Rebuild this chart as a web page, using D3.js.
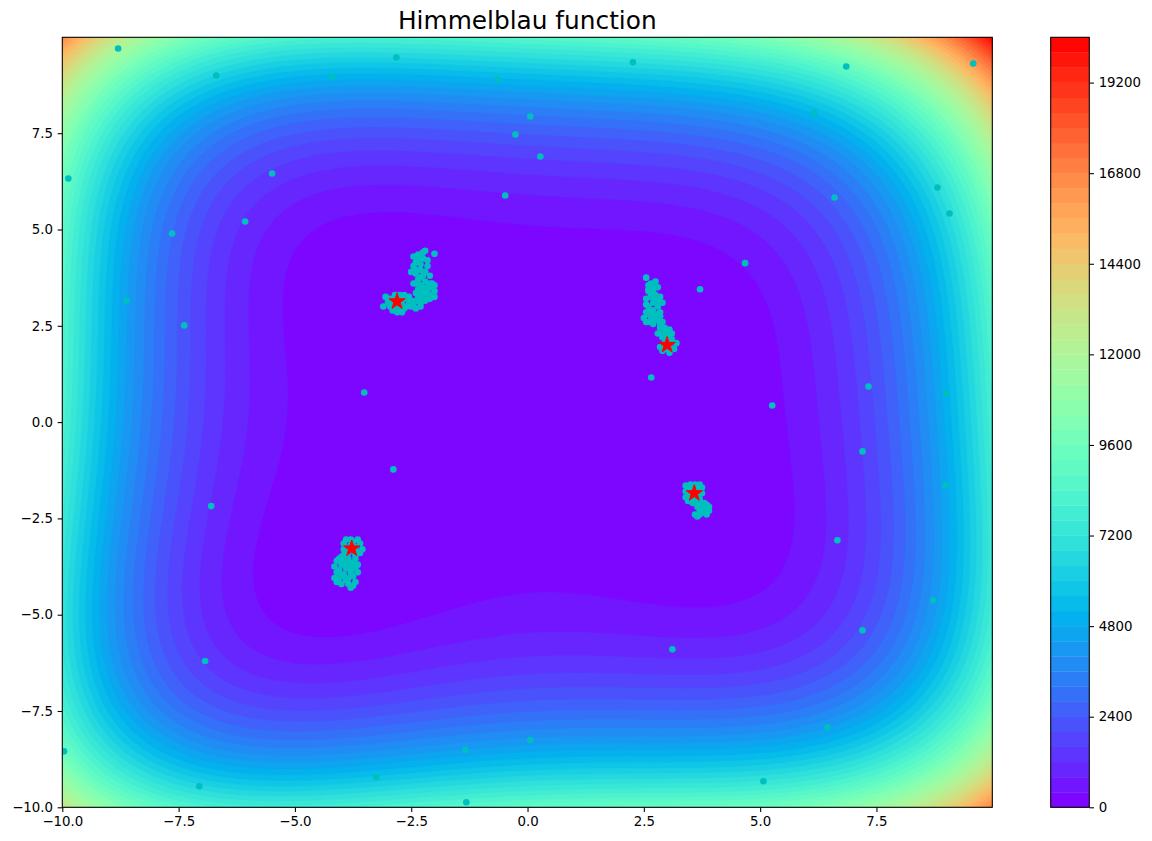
<!DOCTYPE html>
<html>
<head>
<meta charset="utf-8">
<script src="https://cdn.jsdelivr.net/npm/d3@7"></script>
<style>
  html, body { margin: 0; padding: 0; background: #ffffff; }
  svg { display: block; font-family: "DejaVu Sans", sans-serif; }
</style>
</head>
<body>
<svg id="chart" width="1152" height="841"></svg>
<script>
// ---------------- data ----------------
const titleText = "Himmelblau function";
const xTicks = [-10, -7.5, -5, -2.5, 0, 2.5, 5, 7.5];
const yTicks = [-10, -7.5, -5, -2.5, 0, 2.5, 5, 7.5];
const cbTicks = [0, 2400, 4800, 7200, 9600, 12000, 14400, 16800, 19200];
const levelStep = 400;
const levelMax = 20400;
const domainMin = -10;
const domainMax = 9.99;

// known minima (red stars)
const minimaX = [3.0, -2.805118, -3.779310, 3.584428];
const minimaY = [2.0, 3.131312, -3.283186, -1.848126];

// scattered particles
const scatterX = [-8.80, -6.69, -4.20, -2.82, -0.64, 0.06, -0.26, 0.275, -0.48, -9.87, -5.49, -6.07, -7.64, -8.62, -7.38,
  2.265, 6.85, 9.58, 6.165, 8.81, 9.07, 6.60, 7.33, 9.00, 7.20, 8.98, 6.66, 8.72, 7.20, 6.445,
  4.676, 3.708, 5.26, 2.66, -3.51, -2.885, -6.80, -6.93, -7.055, -9.963, -3.25, -1.316, -1.337, 0.06, 3.113, 5.07];
const scatterY = [9.70, 9.00, 8.97, 9.465, 8.894, 7.934, 7.467, 6.896, 5.884, 6.325, 6.455, 5.209, 4.897, 3.159, 2.51,
  9.343, 9.232, 9.31, 8.038, 6.091, 5.417, 5.832, 0.926, 0.745, -0.761, -1.643, -3.07, -4.628, -5.406, -7.924,
  4.127, 3.45, 0.433, 1.16, 0.77, -1.228, -2.18, -6.20, -9.455, -8.547, -9.22, -9.87, -8.513, -8.253, -5.899, -9.325];

// cluster around (-2.805, 3.131)
const clusterAX = [-3.05, -3.0, -2.95, -2.9, -2.85, -2.75, -2.65, -2.6, -2.55, -2.65, -2.75, -2.8, -2.7, -3.1, -2.95, -2.5, -2.45, -2.4, -2.3,
  -2.45, -2.35, -2.25, -2.2, -2.0, -2.15, -2.3, -2.45, -2.5, -2.4, -2.3, -2.2, -2.15, -2.35, -2.45, -2.3, -2.2, -2.1, -2.05, -2.0, -2.15, -2.25, -2.35, -2.0, -2.1, -2.2, -2.3, -2.4, -2.05, -2.1, -2.25, -2.4, -2.2, -2.0, -2.55,
  -2.9, -2.8, -2.7, -2.6, -2.85, -3.0, -2.7, -2.5, -2.35, -2.4, -2.25, -2.35, -2.4, -2.3, -2.25, -2.4, -2.35, -2.15, -2.3, -2.45, -2.1, -2.15];
const clusterAY = [3.25, 3.1, 3.0, 2.9, 3.3, 3.3, 3.3, 3.2, 3.05, 2.95, 2.9, 2.85, 2.85, 3.0, 3.2, 3.0, 3.1, 2.95, 3.0,
  4.3, 4.35, 4.4, 4.45, 4.37, 4.2, 4.1, 4.05, 3.9, 3.85, 3.95, 3.9, 4.05, 3.7, 3.6, 3.55, 3.65, 3.6, 3.5, 3.4, 3.35, 3.4, 3.3, 3.25, 3.2, 3.15, 3.1, 3.15, 3.6, 3.8, 4.25, 4.15, 3.25, 3.55, 3.25,
  3.15, 3.05, 3.1, 3.0, 2.95, 3.2, 3.2, 3.15, 3.2, 3.35, 3.5, 3.45, 3.6, 3.75, 3.8, 3.95, 4.2, 3.5, 3.25, 3.0, 3.3, 3.45];

// cluster around (3, 2)
const clusterBX = [2.55, 2.65, 2.75, 2.6, 2.7, 2.8, 2.75, 2.65, 2.55, 2.85, 2.7, 2.8, 2.6, 2.9, 2.55, 2.65, 2.75, 2.5, 2.6, 2.7,
  2.8, 2.9, 2.95, 2.85, 3.05, 2.8, 2.9, 3.0, 3.1, 2.95, 2.85, 3.0, 3.15, 3.2, 2.9, 3.05, 2.7, 2.85, 2.6,
  2.7, 2.65, 2.75, 2.65, 2.75, 2.85, 2.7, 2.85, 2.95, 3.0, 3.05, 2.95, 3.1, 2.6, 2.55, 2.8, 2.55, 2.9, 2.6];
const clusterBY = [3.75, 3.6, 3.65, 3.45, 3.4, 3.5, 3.3, 3.25, 3.2, 3.25, 3.1, 3.0, 3.0, 3.1, 2.85, 2.75, 2.8, 2.7, 2.6, 2.55,
  2.65, 2.6, 2.45, 2.45, 2.4, 2.3, 2.2, 2.25, 2.15, 2.05, 1.95, 1.9, 1.9, 2.05, 1.85, 1.8, 2.9, 2.85, 3.55,
  3.5, 3.35, 3.2, 2.9, 2.7, 2.75, 2.65, 2.55, 2.35, 2.1, 2.0, 1.95, 2.3, 3.4, 2.6, 3.15, 3.05, 2.3, 2.8];

// cluster around (-3.779, -3.283)
const clusterCX = [-3.9, -3.8, -3.65, -3.6, -3.55, -3.6, -3.7, -3.85, -3.95, -3.95, -4.0, -4.1, -4.15, -4.1, -4.05, -4.15,
  -3.95, -3.85, -3.75, -3.7, -3.8, -3.9, -3.95, -3.85, -3.75, -3.7, -3.75, -3.85, -4.0, -3.7, -3.65, -4.05,
  -3.8, -3.7, -3.85, -3.9, -4.0, -4.05, -3.8, -3.9, -3.8, -4.1, -3.7, -3.75, -3.95, -4.0, -3.65, -3.85];
const clusterCY = [-3.05, -3.05, -3.05, -3.15, -3.3, -3.4, -3.45, -3.4, -3.3, -3.15, -3.5, -3.6, -3.75, -3.9, -4.05, -4.05,
  -3.6, -3.7, -3.65, -3.8, -3.9, -3.8, -3.95, -4.05, -4.0, -4.15, -4.25, -4.2, -4.2, -3.55, -3.7, -3.85,
  -3.2, -3.25, -3.55, -3.65, -3.7, -3.55, -3.8, -4.1, -4.3, -4.15, -3.3, -3.1, -3.45, -4.0, -3.9, -3.3];

// cluster around (3.584, -1.848)
const clusterDX = [3.4, 3.5, 3.6, 3.7, 3.75, 3.75, 3.7, 3.4, 3.4, 3.45, 3.55, 3.65, 3.45, 3.5, 3.75, 3.8, 3.85, 3.9, 3.8, 3.7, 3.65, 3.9, 3.55,
  3.6, 3.5, 3.6, 3.65, 3.7, 3.55, 3.75, 3.8, 3.85, 3.7, 3.85, 3.45, 3.65, 3.6];
const clusterDY = [-1.65, -1.62, -1.62, -1.62, -1.7, -1.85, -2.0, -1.8, -1.95, -2.05, -2.1, -2.1, -1.7, -1.95, -2.1, -2.2, -2.3, -2.2, -2.35, -2.4, -2.45, -2.3, -1.7,
  -1.8, -1.8, -1.95, -1.75, -1.85, -2.0, -2.25, -2.1, -2.4, -2.3, -2.15, -1.85, -2.2, -2.4];

// ---------------- layout ----------------
const svg = d3.select("#chart");
const plot = { left: 62.3, right: 992.3, top: 37.3, bottom: 807.3 };
const cb = { left: 1050.7, right: 1089.3, top: 37.3, bottom: 807.3 };

const x = d3.scaleLinear().domain([domainMin, domainMax]).range([plot.left, plot.right]);
const y = d3.scaleLinear().domain([domainMin, domainMax]).range([plot.bottom, plot.top]);

// matplotlib "rainbow" colormap (256 entries)
function rainbow(v) {
  let idx = Math.floor(v * 256);
  idx = Math.max(0, Math.min(255, idx));
  const t = idx / 255;
  const clip = a => Math.max(0, Math.min(1, a));
  const r = clip(Math.abs(2 * t - 0.5));
  const g = clip(Math.sin(Math.PI * t));
  const b = clip(Math.cos(Math.PI * t / 2));
  return d3.rgb(r * 255, g * 255, b * 255).formatHex();
}
const levels = d3.range(0, levelMax + 1, levelStep);
const bandColor = k => rainbow((levels[k] + levelStep / 2) / levelMax);

// ---------------- surface ----------------
function himmelblau(a, b) {
  return Math.pow(a * a + b - 11, 2) + Math.pow(a + b * b - 7, 2);
}
const nx = 420, ny = 420;
const dxg = (domainMax - domainMin) / nx, dyg = (domainMax - domainMin) / ny;
const grid = new Float64Array(nx * ny);
for (let j = 0; j < ny; j++) {
  const yy = domainMax - (j + 0.5) * dyg;
  for (let i = 0; i < nx; i++) {
    const xx = domainMin + (i + 0.5) * dxg;
    grid[j * nx + i] = himmelblau(xx, yy);
  }
}
const contours = d3.contours().size([nx, ny]).thresholds(levels.slice(0, levels.length - 1))(grid);

const proj = d3.geoTransform({
  point: function (u, v) {
    this.stream.point(x(domainMin + u * dxg), y(domainMax - v * dyg));
  }
});
const path = d3.geoPath(proj);

svg.append("clipPath").attr("id", "plotclip")
  .append("rect")
  .attr("x", plot.left).attr("y", plot.top)
  .attr("width", plot.right - plot.left).attr("height", plot.bottom - plot.top);

const gc = svg.append("g").attr("clip-path", "url(#plotclip)");
gc.selectAll("path.band").data(contours).join("path")
  .attr("class", "band")
  .attr("d", path)
  .attr("fill", (d, k) => bandColor(k))
  .attr("stroke", (d, k) => bandColor(k))
  .attr("stroke-width", 0.4);

// ---------------- particles ----------------
const pts = [];
scatterX.forEach((v, i) => pts.push([v, scatterY[i]]));
clusterAX.forEach((v, i) => pts.push([v, clusterAY[i]]));
clusterBX.forEach((v, i) => pts.push([v, clusterBY[i]]));
clusterCX.forEach((v, i) => pts.push([v, clusterCY[i]]));
clusterDX.forEach((v, i) => pts.push([v, clusterDY[i]]));

gc.append("g").selectAll("circle").data(pts).join("circle")
  .attr("cx", d => x(d[0])).attr("cy", d => y(d[1]))
  .attr("r", 3.3)
  .attr("fill", "#00bfbf");

// stars
function starPath(R) {
  const pts = [];
  for (let i = 0; i < 10; i++) {
    const a = -Math.PI / 2 + i * Math.PI / 5;
    const r = (i % 2 === 0) ? R : R * 0.381966;
    pts.push([r * Math.cos(a), r * Math.sin(a)]);
  }
  return "M" + pts.map(p => p[0].toFixed(2) + "," + p[1].toFixed(2)).join("L") + "Z";
}
gc.append("g").selectAll("path").data(minimaX).join("path")
  .attr("transform", (d, i) => `translate(${x(d)},${y(minimaY[i])})`)
  .attr("d", starPath(8.6))
  .attr("fill", "#ff0000")
  .attr("stroke", "#ff0000")
  .attr("stroke-width", 1)
  .attr("stroke-linejoin", "miter");

// ---------------- axes ----------------
const tickLen = 4.67, tickPad = 4.67, fontSize = 13.33;
const fmt = d3.format(".1f");

const xAxis = svg.append("g").attr("transform", `translate(0,${plot.bottom})`)
  .call(d3.axisBottom(x).tickValues(xTicks).tickFormat(fmt).tickSize(tickLen).tickPadding(tickPad));
const yAxis = svg.append("g").attr("transform", `translate(${plot.left},0)`)
  .call(d3.axisLeft(y).tickValues(yTicks).tickFormat(fmt).tickSize(tickLen).tickPadding(tickPad));
[xAxis, yAxis].forEach(g => {
  g.select(".domain").remove();
  g.selectAll(".tick line").attr("stroke", "#000").attr("stroke-width", 1.07);
  g.selectAll(".tick text").attr("fill", "#000")
    .attr("font-size", fontSize).attr("font-family", "DejaVu Sans, sans-serif");
});

svg.append("rect")
  .attr("x", plot.left).attr("y", plot.top)
  .attr("width", plot.right - plot.left).attr("height", plot.bottom - plot.top)
  .attr("fill", "none").attr("stroke", "#000").attr("stroke-width", 1.07);

// title
svg.append("text")
  .attr("x", (plot.left + plot.right) / 2).attr("y", 29.3)
  .attr("text-anchor", "middle")
  .attr("font-size", 24.8).attr("fill", "#000")
  .text(titleText);

// ---------------- colorbar ----------------
const cbScale = d3.scaleLinear().domain([0, levelMax]).range([cb.bottom, cb.top]);
const cbg = svg.append("g");
cbg.selectAll("rect").data(levels.slice(0, levels.length - 1)).join("rect")
  .attr("x", cb.left)
  .attr("width", cb.right - cb.left)
  .attr("y", d => cbScale(d + levelStep))
  .attr("height", d => cbScale(d) - cbScale(d + levelStep) + 0.3)
  .attr("fill", (d, k) => bandColor(k));
cbg.append("rect")
  .attr("x", cb.left).attr("y", cb.top)
  .attr("width", cb.right - cb.left).attr("height", cb.bottom - cb.top)
  .attr("fill", "none").attr("stroke", "#000").attr("stroke-width", 1.07);
const cbAxis = svg.append("g").attr("transform", `translate(${cb.right},0)`)
  .call(d3.axisRight(cbScale).tickValues(cbTicks).tickFormat(d3.format("d")).tickSize(tickLen).tickPadding(tickPad));
cbAxis.select(".domain").remove();
cbAxis.selectAll(".tick line").attr("stroke", "#000").attr("stroke-width", 1.07);
cbAxis.selectAll(".tick text").attr("fill", "#000")
  .attr("font-size", fontSize).attr("font-family", "DejaVu Sans, sans-serif");
</script>
</body>
</html>
